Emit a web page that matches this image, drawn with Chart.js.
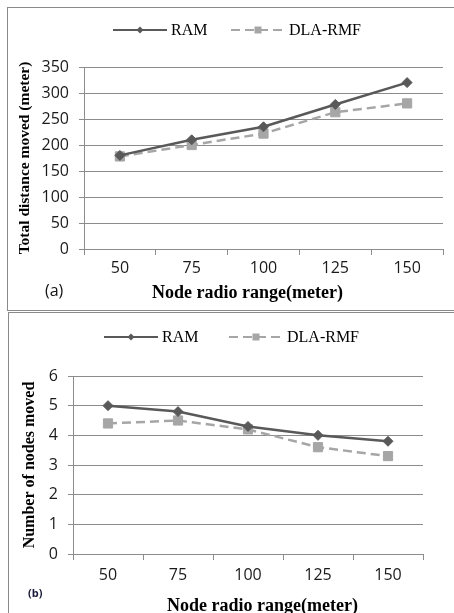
<!DOCTYPE html>
<html>
<head>
<meta charset="utf-8">
<script src="https://cdn.jsdelivr.net/npm/chart.js@4.4.1/dist/chart.umd.min.js"></script>
<style>
  body { margin: 0; background: #fff; width: 454px; height: 613px; overflow: hidden; position: relative; }
  .frame { position: absolute; border: 1px solid #8a8a8a; }
  #frameA { left: 7px; top: 7px; width: 470px; height: 302px; }
  #frameB { left: 8px; top: 312px; width: 470px; height: 320px; }
  canvas { position: absolute; left: 0; }
  #chartA { top: 0; }
  #chartB { top: 310px; }
  .xtitle { position: absolute; font: bold 18px "Liberation Serif", serif; color: #000; white-space: nowrap; line-height: 20px; }
  .tag { position: absolute; white-space: nowrap; }
</style>
</head>
<body>
<div class="frame" id="frameA"></div>
<div class="frame" id="frameB"></div>
<canvas id="chartA" width="454" height="300"></canvas>
<canvas id="chartB" width="454" height="303"></canvas>
<div class="xtitle" style="left:152px; top:282px;">Node radio range(meter)</div>
<div class="xtitle" style="left:167px; top:595px;">Node radio range(meter)</div>
<div class="tag" style="left:45px; top:280px; font:16px 'Open Sans', sans-serif; line-height:20px; color:#111;">(a)</div>
<div class="tag" style="left:28px; top:586px; font:bold 11px 'Open Sans', sans-serif; line-height:14px; color:#1a1a3a;">(b)</div>

<script>
// radio ranges on the x axis (meters)
const ranges = ['50', '75', '100', '125', '150'];

// total distance moved (meter)
const ramDistance = [180, 210, 235, 278, 320];
const dlaDistance = [178, 200, 222, 263, 280];

// number of nodes moved
const ramNodes = [5.0, 4.8, 4.3, 4.0, 3.8];
const dlaNodes = [4.4, 4.5, 4.2, 3.6, 3.3];

const GRID = '#8c8c8c';
const tickFont = { family: 'Open Sans', size: 16 };

// legend with a short line + marker for each series, Excel style
const lineLegend = {
  id: 'lineLegend',
  afterDraw(chart, args, opts) {
    const ctx = chart.ctx;
    chart.data.datasets.forEach((ds, i) => {
      const x0 = opts.starts[i];
      const y = opts.y;
      const len = 54;
      const cx = x0 + len / 2;
      ctx.save();
      ctx.strokeStyle = ds.borderColor;
      ctx.lineWidth = 2;
      ctx.setLineDash(ds.borderDash || []);
      ctx.beginPath();
      ctx.moveTo(x0, y);
      ctx.lineTo(x0 + len, y);
      ctx.stroke();
      ctx.setLineDash([]);
      ctx.fillStyle = ds.pointBackgroundColor;
      ctx.beginPath();
      if (ds.pointStyle === 'rectRot') {
        const r = 3.5;
        ctx.moveTo(cx, y - r);
        ctx.lineTo(cx + r, y);
        ctx.lineTo(cx, y + r);
        ctx.lineTo(cx - r, y);
        ctx.closePath();
      } else {
        const h = 3.5;
        ctx.rect(cx - h, y - h, 2 * h, 2 * h);
      }
      ctx.fill();
      ctx.fillStyle = '#000';
      ctx.font = '16px "Liberation Serif"';
      ctx.textBaseline = 'middle';
      ctx.fillText(ds.label, x0 + len + 4, y + 1);
      ctx.restore();
    });
  }
};

function series(ram, dla) {
  return [
    {
      label: 'RAM',
      data: ram,
      borderColor: '#595959',
      borderWidth: 2.5,
      pointStyle: 'rectRot',
      pointRadius: 5,
      pointBackgroundColor: '#595959',
      pointBorderColor: '#595959',
      pointBorderWidth: 1,
      tension: 0
    },
    {
      label: 'DLA-RMF',
      data: dla,
      borderColor: '#a6a6a6',
      borderWidth: 2.5,
      borderDash: [9, 5],
      pointStyle: 'rect',
      pointRadius: 6.5,
      pointBackgroundColor: '#a6a6a6',
      pointBorderColor: '#a6a6a6',
      pointBorderWidth: 1,
      tension: 0
    }
  ];
}

function makeChart(id, opt) {
  return new Chart(document.getElementById(id), {
    type: 'line',
    data: { labels: ranges, datasets: series(opt.ram, opt.dla) },
    options: {
      responsive: false,
      animation: false,
      layout: { autoPadding: false, padding: opt.padding },
      plugins: {
        legend: { display: false },
        tooltip: { enabled: false },
        lineLegend: opt.legend
      },
      scales: {
        x: {
          offset: true,
          grid: { offset: true, drawOnChartArea: false, drawTicks: true, tickLength: 6, color: GRID },
          border: { color: GRID, width: 1 },
          ticks: { font: tickFont, color: '#1a1a1a', padding: opt.xPad },
          afterFit: (s) => { s.height = opt.xHeight; }
        },
        y: {
          min: 0,
          max: opt.max,
          ticks: { stepSize: opt.step, font: tickFont, color: '#1a1a1a', padding: 10 },
          grid: { color: GRID, tickLength: 5 },
          border: { color: GRID, width: 1 },
          title: {
            display: true,
            text: opt.yTitle,
            color: '#000',
            font: { family: 'Liberation Serif', weight: 'bold', size: opt.yTitleSize },
            padding: { top: 4, bottom: 4 }
          },
          afterFit: (s) => { s.width = opt.yWidth; }
        }
      }
    },
    plugins: [lineLegend]
  });
}

makeChart('chartA', {
  ram: ramDistance,
  dla: dlaDistance,
  max: 350,
  step: 50,
  yTitle: 'Total distance moved (meter)',
  yTitleSize: 15.5,
  padding: { left: 12, right: 11, top: 67, bottom: 0 },
  yWidth: 72,
  xHeight: 51,
  xPad: 4,
  legend: { y: 30, starts: [113, 231] }
});

makeChart('chartB', {
  ram: ramNodes,
  dla: dlaNodes,
  max: 6,
  step: 1,
  yTitle: 'Number of nodes moved',
  yTitleSize: 16,
  padding: { left: 16, right: 31, top: 66, bottom: 0 },
  yWidth: 57,
  xHeight: 59,
  xPad: 6,
  legend: { y: 27, starts: [104, 229] }
});
</script>
</body>
</html>
